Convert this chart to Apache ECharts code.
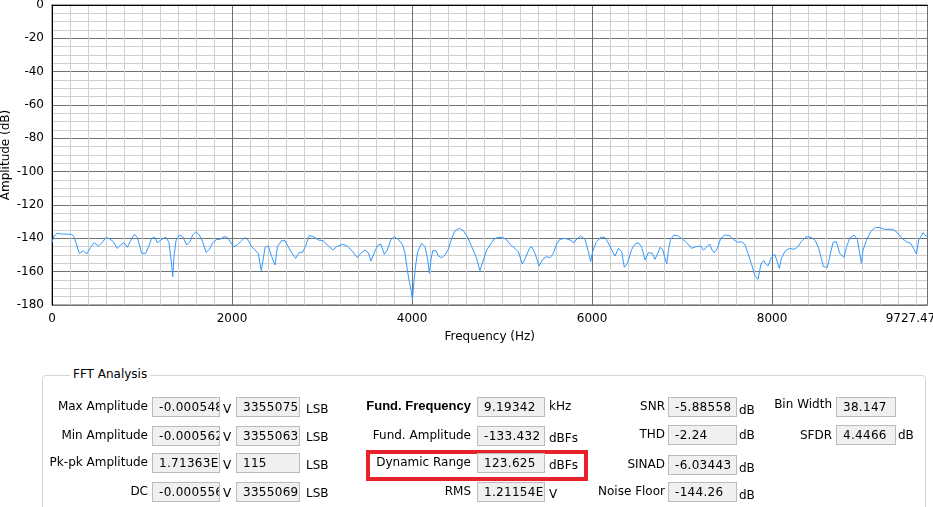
<!DOCTYPE html>
<html>
<head>
<meta charset="utf-8">
<script src="https://cdn.jsdelivr.net/npm/echarts@6/dist/echarts.min.js"></script>
<style>
  html, body { margin: 0; padding: 0; background: #fff; overflow: hidden; }
  #wrap { position: relative; width: 933px; height: 507px; }
  #chart { position: absolute; left: 0; top: 0; width: 933px; height: 507px; }
  #panel { position: absolute; left: 0; top: 0; width: 933px; height: 507px; pointer-events: none;
           font-family: "DejaVu Sans", sans-serif; font-size: 12px; color: #000; }
  .lbl { position: absolute; white-space: nowrap; height: 20px; line-height: 20px; }
  .box { position: absolute; height: 18px; line-height: 18px; background: #f0f0f0; border: 1px solid #bcbcbc;
         padding-left: 6px; box-sizing: content-box; overflow: hidden; white-space: nowrap; letter-spacing: 0.3px; }
  .unit { position: absolute; white-space: nowrap; height: 20px; line-height: 20px; }
  .group { position: absolute; border: 1px solid #d6d6d6; border-radius: 4px; }
  .gtitle { position: absolute; background: #fff; padding: 0 3px; line-height: 14px; }
  .red { position: absolute; border: 4px solid #e8212b; box-sizing: border-box; }
</style>
</head>
<body>
<div id="wrap">
  <div id="chart"></div>
  <div id="panel"></div>
</div>
<script>
// ---- chart data ----
const freqs = [0,22,59,107,218,245,274,304,348,385,430,467,515,559,600,637,681,726,763,800,837,874,915,948,996,1041,1081,1107,1144,1170,1200,1237,1267,1300,1318,1330,1341,1355,1378,1415,1452,1496,1533,1563,1600,1637,1674,1711,1748,1785,1830,1867,1911,1948,1996,2022,2059,2096,2144,2181,2218,2255,2292,2311,2326,2348,2367,2404,2441,
2478,2504,2552,2589,2644,2707,2748,2785,2822,2859,2904,2959,3015,3059,3119,3163,3230,3281,3341,3393,3430,3478,3515,3545,3578,3615,3652,3693,3726,3763,3800,3848,3896,3922,3948,3970,3993,4004,4022,4041,4063,4107,4144,4174,4193,4211,4230,4267,4293,4330,4367,4404,4441,4478,4526,4570,4615,4663,4711,4755,4793,4830,4885,
4904,4948,5007,5052,5096,5144,5181,5226,5267,5304,5330,5367,5411,5452,5496,5533,5570,5607,5644,5700,5756,5800,5837,5874,5922,5959,5985,6007,6044,6096,6144,6193,6219,6256,6293,6330,6359,6393,6441,6478,6515,6552,6589,6626,6670,6700,6730,6756,6785,6807,6830,6852,6874,6911,6959,7007,7052,7107,7156,7207,7237,7281,
7307,7333,7356,7393,7430,7474,7530,7567,7615,7659,7696,7733,7770,7807,7844,7881,7911,7926,7956,7993,8030,8052,8081,8104,8148,8196,8244,8281,8326,8381,8437,8481,8519,8548,8570,8615,8641,8678,8715,8752,8800,8826,8863,8911,8948,8974,8993,9011,9048,9096,9148,9196,9252,9344,9393,9444,9493,9541,9578,9604,9630,9678,9696,9715,9727.47];
const amps = [-142.6,-138.6,-137,-137.4,-137.6,-139,-144,-149,-147.4,-149.4,-145.4,-142.6,-144.6,-142.4,-139.4,-140.2,-142,-146,-144,-142.6,-145.4,-141.4,-137.6,-139.4,-149,-149,-144,-140,-139.4,-142.6,-141.4,-140,-139.4,-142.6,-151,-156,-163,-151,-141.4,-138,-139,-144,-142,-138,-136,-138,-142,-148.4,-146.6,-142.6,-140.6,-140.6,-139,-139.4,-143.4,-145,-144,-142,-139.4,-141.4,-145,-147,-149,-155,-159.4,-152,-145.4,-144.6,-151,
-156,-145,-141.4,-141.4,-147,-152,-148.4,-148.4,-144,-138.4,-139,-141,-141.4,-144,-147,-145,-143.6,-144.6,-148,-151.6,-149,-147,-148.6,-153.6,-149,-144.4,-143.4,-149.6,-147,-141,-139,-140.6,-144,-149,-159,-166,-172,-176.6,-166,-156,-148,-143,-145,-152.6,-161,-152.6,-147.4,-147.4,-150.6,-151.6,-150,-146.6,-140,-135.4,-134,-135.4,-139,-145,-151,-159.4,-153,-147,-142.6,
-141,-139.4,-139.4,-141,-144,-146,-148,-155.4,-151,-146,-145,-149,-156.6,-152.6,-151,-151.6,-149,-143.4,-140.6,-140,-141,-142.6,-140,-138.6,-140.6,-148,-154,-148,-142.6,-139.4,-139.4,-144,-147,-150.6,-146,-148,-157.4,-155,-146.6,-143.4,-142.6,-145.4,-153,-148.6,-149,-152.6,-149,-145.4,-146.6,-151,-155.4,-146,-140.6,-138,-138.6,-140.6,-142.6,-146,-145,-144.6,-147,-145,
-143.4,-147,-148.6,-146,-140,-138,-138.4,-140.6,-142.4,-142,-143.4,-149,-155,-162,-164.6,-154.6,-153.4,-155,-156.6,-151.4,-149.6,-153,-158,-152,-147.4,-146,-146.6,-145.4,-142,-139,-139.4,-141.4,-146,-152,-157,-157.4,-151,-142.4,-142,-149,-151.4,-145.4,-140,-138,-140.6,-149,-155,-147,-141.4,-136,-133.4,-133.6,-134.6,-134.6,-136.6,-140,-142,-143,-146.6,-149.4,-141,-136.6,-138,-137,-139];
const xMax = 9727.47;
const xMajor = 2000, xMinor = 200;
const yMin = -180, yMax = 0, yMajor = 20, yMinor = 5;
const xTitle = 'Frequency (Hz)';
const yTitle = 'Amplitude (dB)';

// ---- panel texts ----
const panelTitle = 'FFT Analysis';
const leftLabels = ['Max Amplitude', 'Min Amplitude', 'Pk-pk Amplitude', 'DC'];
const leftVolts = ['-0.000548', '-0.000562', '1.71363E-5', '-0.000556'];
const leftLsb = ['3355075', '3355063', '115', '3355069'];
const midLabels = ['Fund. Frequency', 'Fund. Amplitude', 'Dynamic Range', 'RMS'];
const midValues = ['9.19342', '-133.432', '123.625', '1.21154E-5'];
const midUnits = ['kHz', 'dBFs', 'dBFs', 'V'];
const rightLabels = ['SNR', 'THD', 'SINAD', 'Noise Floor'];
const rightValues = ['-5.88558', '-2.24', '-6.03443', '-144.26'];
const farLabels = ['Bin Width', 'SFDR'];
const farValues = ['38.147', '4.4466'];
const farUnits = ['', 'dB'];

// ---- chart ----
const chart = echarts.init(document.getElementById('chart'), null, { renderer: 'canvas' });
const font = 'DejaVu Sans';
const lineData = freqs.map((f, i) => [f, amps[i]]);
chart.setOption({
  animation: false,
  backgroundColor: '#fff',
  grid: { left: 52, top: 5, width: 875.5, height: 300, show: true, borderColor: '#555', borderWidth: 1,
          backgroundColor: '#fff', containLabel: false, outerBoundsMode: 'none' },
  xAxis: [
    { type: 'value', min: 0, max: xMax, interval: xMinor, position: 'bottom',
      axisLine: { show: false }, axisTick: { show: false }, axisLabel: { show: false },
      splitLine: { show: true, lineStyle: { color: '#cfcfcf', width: 1 } } },
    { type: 'value', min: 0, max: xMax, interval: xMajor, position: 'bottom',
      name: xTitle, nameLocation: 'middle', nameGap: 26, nameMoveOverlap: false,
      nameTextStyle: { color: '#000', fontFamily: font, fontSize: 12 },
      axisLine: { show: true, lineStyle: { color: '#000', width: 1 } }, axisTick: { show: false },
      axisLabel: { color: '#000', fontFamily: font, fontSize: 12, margin: 8,
                   formatter: v => (v === xMax ? '{mx|' + String(v) + '}' : String(v)),
                   rich: { mx: { color: '#000', fontFamily: font, fontSize: 12, padding: [0, 34, 0, 0] } },
                   showMaxLabel: true, hideOverlap: false },
      splitLine: { show: true, lineStyle: { color: '#707070', width: 1 } } }
  ],
  yAxis: [
    { type: 'value', min: yMin, max: yMax, interval: yMinor, position: 'left',
      axisLine: { show: false }, axisTick: { show: false }, axisLabel: { show: false },
      splitLine: { show: true, lineStyle: { color: '#cfcfcf', width: 1 } } },
    { type: 'value', min: yMin, max: yMax, interval: yMajor, position: 'left',
      name: yTitle, nameLocation: 'middle', nameGap: 40, nameMoveOverlap: false,
      nameTextStyle: { color: '#000', fontFamily: font, fontSize: 12 },
      axisLine: { show: true, lineStyle: { color: '#000', width: 1 } }, axisTick: { show: false },
      axisLabel: { color: '#000', fontFamily: font, fontSize: 12, margin: 8, formatter: v => String(v) },
      splitLine: { show: true, lineStyle: { color: '#707070', width: 1 } } }
  ],
  series: [{
    type: 'line', xAxisIndex: 1, yAxisIndex: 1, data: lineData,
    showSymbol: false, symbol: 'none', smooth: false,
    lineStyle: { color: '#3399ff', width: 1 }
  }]
});

// ---- panel ----
const panel = document.getElementById('panel');
function el(cls, text, style) {
  const d = document.createElement('div');
  d.className = cls;
  d.textContent = text;
  Object.assign(d.style, style);
  panel.appendChild(d);
  return d;
}
function px(v) { return v + 'px'; }

el('group', '', { left: px(42), top: px(375), width: px(882), height: px(200) });
el('gtitle', panelTitle, { left: px(70), top: px(367) });

const rowTops = [397, 425.5, 453, 481.5];
const rightTops = [397, 425, 455, 481.5];

// left column
rowTops.forEach((t, i) => {
  el('lbl', leftLabels[i], { right: px(933 - 148), top: px(t - 1) });
  el('box', leftVolts[i], { left: px(152), top: px(t), width: px(60) });
  el('unit', 'V', { left: px(223), top: px(t + 1.5) });
  el('box', leftLsb[i], { left: px(236), top: px(t), width: px(56) });
  el('unit', 'LSB', { left: px(306), top: px(t + 1.5) });
});

// red highlight for Dynamic Range
el('red', '', { left: px(366), top: px(450), width: px(222), height: px(31) });

// middle column
rowTops.forEach((t, i) => {
  const l = el('lbl', midLabels[i], { right: px(933 - 471), top: px(t - 1) });
  if (i === 0) { l.style.fontFamily = '"Liberation Sans", Arial, sans-serif'; l.style.fontWeight = 'bold'; l.style.fontSize = '13px'; }
  el('box', midValues[i], { left: px(477), top: px(t), width: px(60) });
  el('unit', midUnits[i], { left: px(549), top: px(t + (i === 0 ? -1 : 2)) });
});

// right column
rightTops.forEach((t, i) => {
  el('lbl', rightLabels[i], { right: px(933 - 665), top: px(t - 1) });
  el('box', rightValues[i], { left: px(668), top: px(t), width: px(61) });
  el('unit', 'dB', { left: px(739), top: px(t + (i === 1 ? 0 : 3)) });
});

// far right
[397, 425].forEach((t, i) => {
  el('lbl', farLabels[i], { right: px(933 - 832), top: px(t - (i === 0 ? 3 : 0)) });
  el('box', farValues[i], { left: px(836), top: px(t), width: px(52) });
  if (farUnits[i]) el('unit', farUnits[i], { left: px(898), top: px(t) });
});
</script>
</body>
</html>
